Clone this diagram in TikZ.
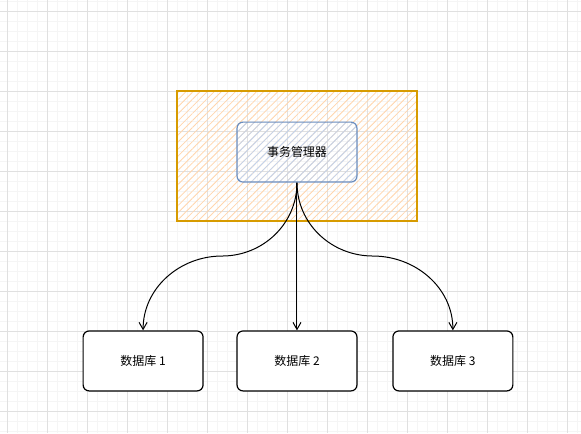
\documentclass[tikz,border=0pt]{standalone}
\usepackage{fontspec}
\newfontfamily\cjk{Noto Sans CJK SC}
\usetikzlibrary{arrows.meta,patterns.meta}
\definecolor{grpline}{HTML}{D79B00}
\definecolor{grphatch}{HTML}{FFD6AD}
\definecolor{mgrline}{HTML}{6C8EBF}
\definecolor{mgrhatch}{HTML}{BFD3F0}
\begin{document}
\begin{tikzpicture}[x=1pt, y=-1pt, font=\cjk\fontsize{12}{14}\selectfont, >={Straight Barb[length=7pt,width=8pt]},
          box/.style={draw, line width=1.2pt, rounded corners=6pt, align=center, minimum width=120pt, minimum height=60pt},
          hatch/.style={pattern={Lines[angle=45,distance=5pt,line width=0.8pt]}},
          arr/.style={->, line width=1pt}]
        % background grid
        \fill[white] (0,0) rectangle (581,433);
        \begin{scope}[shift={(7,11)}]
          \draw[black!4, step=10pt] (-7,-11) grid (574,422);
          \draw[black!12, step=40pt] (-7,-11) grid (574,422);
        \end{scope}
        \useasboundingbox (0,0) rectangle (581,433);
        \node[draw=grpline, line width=1.4pt, hatch, pattern color=grphatch, minimum width=240pt, minimum height=130pt] (grp) at (297,156) {};
        \node[box, draw=mgrline, hatch, pattern color=mgrhatch] (mgr) at (297,152) {事务管理器};
        \node[box, fill=white] (db1) at (143,361) {数据库 1};
        \node[box, fill=white] (db2) at (297,361) {数据库 2};
        \node[box, fill=white] (db3) at (453,361) {数据库 3};
        \coordinate (c1) at (222,256);
        \coordinate (c3) at (373,256);
        \draw[arr] (mgr.south) to[out=-90,in=0] (c1) to[out=180,in=90] (db1.north);
        \draw[arr] (mgr.south) -- (db2.north);
        \draw[arr] (mgr.south) to[out=-90,in=180] (c3) to[out=0,in=90] (db3.north);
      \end{tikzpicture}
\end{document}
